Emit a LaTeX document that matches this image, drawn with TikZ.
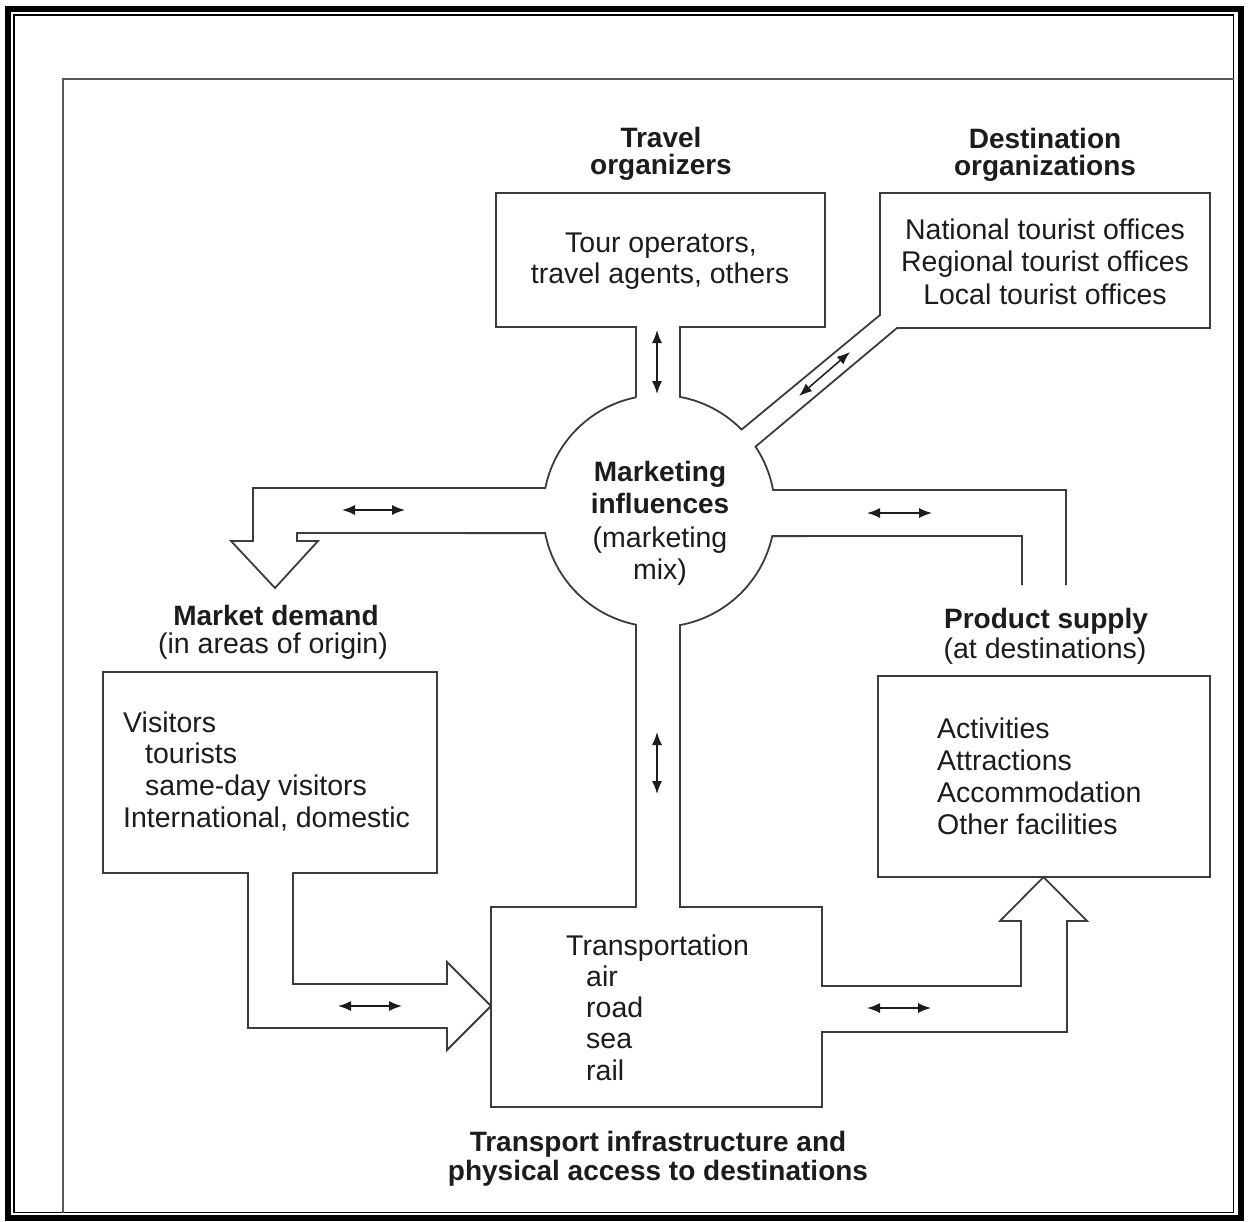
\documentclass[tikz,border=0pt]{standalone}
\usepackage{fontspec}
\setmainfont{Liberation Sans}
\usetikzlibrary{arrows.meta,calc}
\definecolor{ink}{HTML}{3C3C3C}
\definecolor{txtc}{HTML}{1C1C1C}
\begin{document}
\begin{tikzpicture}[x=1pt,y=-1pt,
  outline/.style={draw=ink,line width=1.8pt,line join=miter},
  lbl/.style={font=\fontsize{28}{32}\selectfont\bfseries,text=txtc,anchor=base,inner sep=0pt},
  ctxt/.style={font=\fontsize{28.5}{32}\selectfont,text=txtc,anchor=base,inner sep=0pt},
  ltxt/.style={font=\fontsize{28.5}{32}\selectfont,text=txtc,anchor=base west,inner sep=0pt},
  dbl/.style={{Latex[length=13pt,width=10pt]}-{Latex[length=13pt,width=10pt]},line width=1.5pt,draw=txtc}]
\useasboundingbox (0,0) rectangle (1250,1221);
\fill[white] (0,0) rectangle (1250,1221);
% frames
\draw[line width=6pt] (8,8.5) rectangle (1241,1218);
\draw[line width=1.3pt] (14,15) rectangle (1233.5,1212.5);
\draw[gray!70!black,line width=1.3pt] (63,1212.5) -- (63,79) -- (1233.5,79);
% circle centre
\coordinate (c) at (659,511);
% upper outline: travel box, destination box, right channel top
\draw[outline] ($(c)+(101.4:116pt)$) -- (636,327) -- (496,327) -- (496,193) -- (825,193) -- (825,327) -- (680,327)
  -- ($(c)+(79.6:116pt)$) arc[start angle=79.6,end angle=44.6,radius=116pt]
  -- (880,315) -- (880,193) -- (1210,193) -- (1210,328) -- (897,328)
  -- ($(c)+(33.7:116pt)$) arc[start angle=33.7,end angle=10.4,radius=116pt]
  -- (1066,490) -- (1066,585);
% lower outline: right channel bottom, transport box, arrows, left channel
\draw[outline] (1022,585) -- (1022,536)
  -- ($(c)+(-12.5:116pt)$) arc[start angle=-12.5,end angle=-79.6,radius=116pt]
  -- (680,907) -- (822,907) -- (822,986) -- (1021,986) -- (1021,921) -- (1000,921) -- (1043.5,877)
  -- (1087,921) -- (1067,921) -- (1067,1032) -- (822,1032) -- (822,1107) -- (491,1107) -- (491,907) -- (636,907)
  -- ($(c)+(-101.4:116pt)$) arc[start angle=-101.4,end angle=-169,radius=116pt]
  -- (297,533) -- (297,541) -- (318,541) -- (275,588) -- (231,541) -- (253,541) -- (253,488)
  -- ($(c)+(168.6:116pt)$) arc[start angle=168.6,end angle=101.4,radius=116pt];
% product box
\draw[outline] (878,676) rectangle (1210,877);
% market box with arrow
\draw[outline] (248,873) -- (103,873) -- (103,672) -- (437,672) -- (437,873) -- (293,873) -- (293,984)
  -- (447,984) -- (447,962) -- (491,1006) -- (447,1050) -- (447,1028) -- (248,1028) -- cycle;
% labels
\node[lbl] (to1) at (661,147) {Travel};
\node[lbl] (to2) at (661,174) {organizers};
\node[lbl] (do1) at (1045,148) {Destination};
\node[lbl] (do2) at (1045,175) {organizations};
\node[ctxt] (tb1) at (661,252) {Tour operators,};
\node[ctxt] (tb2) at (660,283) {travel agents, others};
\node[ctxt] (db1) at (1045,239) {National tourist offices};
\node[ctxt] (db2) at (1045,271.5) {Regional tourist offices};
\node[ctxt] (db3) at (1045,304) {Local tourist offices};
\node[lbl] (mi1) at (660,481) {Marketing};
\node[lbl] (mi2) at (660,513) {influences};
\node[ctxt] (mi3) at (660,547) {(marketing};
\node[ctxt] (mi4) at (660,579) {mix)};
\node[lbl] (md1) at (276,625) {Market demand};
\node[ctxt] (md2) at (273,653) {(in areas of origin)};
\node[lbl] (ps1) at (1046,628) {Product supply};
\node[ctxt] (ps2) at (1045,658) {(at destinations)};
\node[ltxt] (mb1) at (123,732) {Visitors};
\node[ltxt] (mb2) at (145,763.5) {tourists};
\node[ltxt] (mb3) at (145,795) {same-day visitors};
\node[ltxt] (mb4) at (123,827) {International, domestic};
\node[ltxt] (pb1) at (937,738) {Activities};
\node[ltxt] (pb2) at (937,770) {Attractions};
\node[ltxt] (pb3) at (937,802) {Accommodation};
\node[ltxt] (pb4) at (937,834) {Other facilities};
\node[ltxt] (tr1) at (566,955) {Transportation};
\node[ltxt] (tr2) at (586,986) {air};
\node[ltxt] (tr3) at (586,1017) {road};
\node[ltxt] (tr4) at (586,1048.5) {sea};
\node[ltxt] (tr5) at (586,1080) {rail};
\node[lbl] (ti1) at (658,1151) {Transport infrastructure and};
\node[lbl] (ti2) at (658,1180) {physical access to destinations};
% two-way arrows
\coordinate (a1s) at (657,330); \coordinate (a1e) at (657,394);
\coordinate (a2s) at (799,396); \coordinate (a2e) at (850,352);
\coordinate (a3s) at (342,510); \coordinate (a3e) at (405,510);
\coordinate (a4s) at (867,513); \coordinate (a4e) at (932,513);
\coordinate (a5s) at (657,732); \coordinate (a5e) at (657,794);
\coordinate (a6s) at (338,1006); \coordinate (a6e) at (402,1006);
\coordinate (a7s) at (867,1008); \coordinate (a7e) at (931,1008);
\draw[dbl] (a1s) -- (a1e);
\draw[dbl] (a2s) -- (a2e);
\draw[dbl] (a3s) -- (a3e);
\draw[dbl] (a4s) -- (a4e);
\draw[dbl] (a5s) -- (a5e);
\draw[dbl] (a6s) -- (a6e);
\draw[dbl] (a7s) -- (a7e);
\end{tikzpicture}
\end{document}
